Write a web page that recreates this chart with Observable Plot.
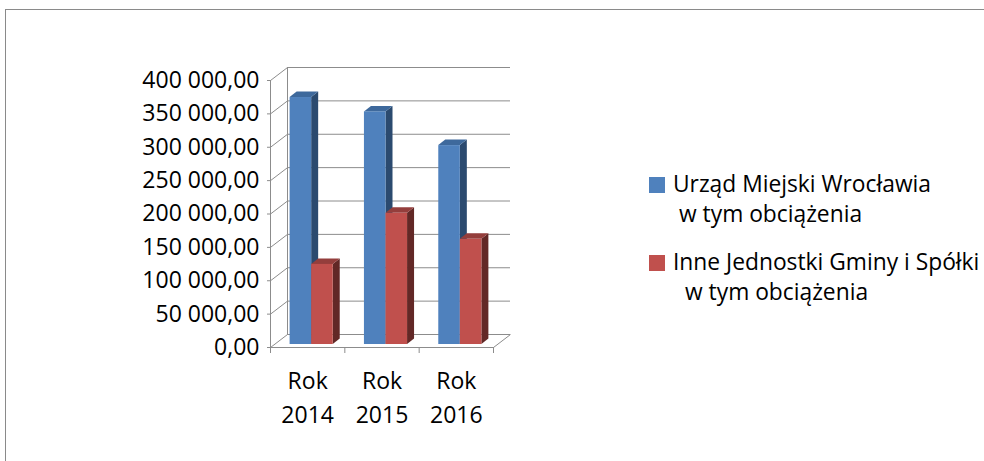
<!DOCTYPE html>
<html><head><meta charset="utf-8">
<script src="https://cdn.jsdelivr.net/npm/d3@7"></script>
<script src="https://cdn.jsdelivr.net/npm/@observablehq/plot@0.6"></script>
<style>
html,body{margin:0;padding:0;background:#fff;overflow:hidden;}
#wrap{position:relative;width:984px;height:461px;overflow:hidden;font-family:"Open Sans",sans-serif;background:#fff;}
#border{position:absolute;left:5px;top:9px;width:1200px;height:800px;border:1.5px solid #8a8a8a;box-sizing:border-box;}
#chart{position:absolute;left:0;top:0;}
.leg{position:absolute;font-size:22.8px;line-height:30px;white-space:nowrap;color:#000;}
.sw{position:absolute;width:16px;height:16px;}
</style></head>
<body><div id="wrap"><div id="border"></div><div id="chart"></div><div id="legend"></div></div>
<script>
// ---- data ----
const categories = ["2014", "2015", "2016"];
const urzad = [370000, 348500, 298000];
const inne = [120000, 196500, 157500];
const yTicks = [0, 50000, 100000, 150000, 200000, 250000, 300000, 350000, 400000];
const seriesNames = ["Urząd Miejski Wrocławia", "Inne Jednostki Gminy i Spółki"];
const seriesSub = ["w tym obciążenia", "w tym obciążenia"];

// ---- style ----
const frontColors = ["#4F81BD", "#C0504D"];
const sideColors = ["#2B4A6F", "#622826"];
const topColors = ["#3E699C", "#943E3C"];
const grid = "#8c8c8c";
const W = 984, H = 461, mL = 270, mR = 491, mT = 80, mB = 114;
const wallDX = 17, wallDY = 13;      // depth of walls (px)
const barOX = 4, barOY = 3;          // bar front offset (px)
const barDX = 7, barDY = 5.5;        // bar depth (px)

const X = Plot.scale({x: {domain: [0, 3], range: [mL, W - mR]}});
const Y = Plot.scale({y: {domain: [0, 400000], range: [H - mB, mT]}});
const pxX = px => X.invert(mL + px) - X.invert(mL);
const pxY = px => Y.invert(H - mB - px) - Y.invert(H - mB);

const values = [urzad, inne];
const bars = [];
categories.forEach((c, i) => {
  [0, 1].forEach(s => {
    bars.push({id: i + "-" + s, s, x1: i + 0.21 + s * 0.29, x2: i + 0.21 + (s + 1) * 0.29, v: values[s][i]});
  });
});

const fmt = d => d3.format(",.2f")(d).replace(/,/g, " ").replace(".", ",");

const barMarks = [];
[0, 1].forEach(s => {
  const bs = bars.filter(b => b.s === s);
  const side = bs.flatMap(b => [
    {id: b.id, x: b.x2, y1: 0, y2: b.v},
    {id: b.id, x: b.x2 + pxX(barDX), y1: pxY(barDY), y2: b.v + pxY(barDY)}
  ]);
  const top = bs.flatMap(b => [
    {id: b.id, y: b.v, x1: b.x1, x2: b.x2},
    {id: b.id, y: b.v + pxY(barDY), x1: b.x1 + pxX(barDX), x2: b.x2 + pxX(barDX)}
  ]);
  barMarks.push(
    Plot.areaY(side, {x: "x", y1: "y1", y2: "y2", z: "id", fill: sideColors[s], dx: barOX, dy: -barOY}),
    Plot.areaX(top, {y: "y", x1: "x1", x2: "x2", z: "id", fill: topColors[s], dx: barOX, dy: -barOY}),
    Plot.rect(bs, {x1: "x1", x2: "x2", y1: 0, y2: "v", fill: frontColors[s], dx: barOX, dy: -barOY})
  );
});

const chart = Plot.plot({
  width: W, height: H,
  marginLeft: mL, marginRight: mR, marginTop: mT, marginBottom: mB,
  style: {fontFamily: '"Open Sans", sans-serif', color: "#000", background: "transparent", overflow: "visible"},
  x: {domain: [0, 3]},
  y: {domain: [0, 400000]},
  marks: [
    // back wall gridlines
    Plot.ruleY(yTicks, {x1: 0, x2: 3, dx: wallDX, dy: -wallDY, stroke: grid}),
    Plot.ruleX([0], {y1: 0, y2: 400000, dx: wallDX, dy: -wallDY, stroke: grid}),
    // side wall diagonals
    Plot.link(yTicks, {x1: 0, x2: pxX(wallDX), y1: d => d, y2: d => d + pxY(wallDY), stroke: grid}),
    // floor right edge
    Plot.link([3], {x1: d => d, x2: d => d + pxX(wallDX), y1: 0, y2: pxY(wallDY), stroke: grid}),
    // front axis lines
    Plot.ruleX([0], {y1: 0, y2: 400000, stroke: grid}),
    Plot.ruleY([0], {x1: 0, x2: 3, stroke: grid}),
    ...barMarks,
    Plot.axisY(yTicks, {tickSize: 3, tickPadding: 8, tickFormat: fmt, fontSize: 23, stroke: grid, label: null}),
    Plot.axisX([0, 1, 2, 3], {tickSize: 6, tickFormat: () => "", stroke: grid, label: null}),
    Plot.axisX([0.5, 1.5, 2.5], {tickSize: 0, tickPadding: 17, tickFormat: d => "Rok\n" + categories[Math.floor(d)], fontSize: 23, lineHeight: 1.48, label: null})
  ]
});
document.getElementById("chart").appendChild(chart);

// ---- legend ----
const leg = document.getElementById("legend");
const legTops = [169, 247];
const subIndent = [6, 12];
seriesNames.forEach((name, s) => {
  const sw = document.createElement("div");
  sw.className = "sw";
  sw.style.left = "649px";
  sw.style.top = (legTops[s] + 8) + "px";
  sw.style.background = frontColors[s];
  leg.appendChild(sw);
  const t1 = document.createElement("div");
  t1.className = "leg";
  t1.style.left = "673px";
  t1.style.top = legTops[s] + "px";
  t1.textContent = name;
  leg.appendChild(t1);
  const t2 = document.createElement("div");
  t2.className = "leg";
  t2.style.left = (673 + subIndent[s]) + "px";
  t2.style.top = (legTops[s] + 30) + "px";
  t2.textContent = seriesSub[s];
  leg.appendChild(t2);
});
</script>
</body></html>
